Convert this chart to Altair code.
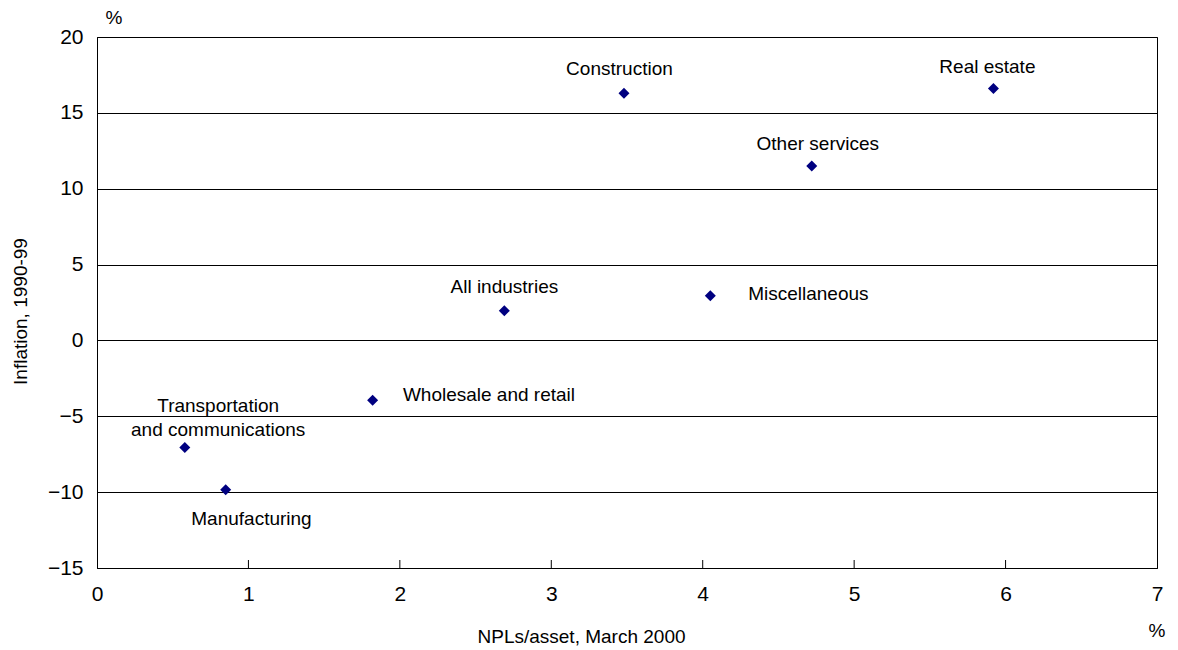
import altair as alt
import pandas as pd

industries = ["Construction", "Real estate", "Other services", "All industries",
              "Miscellaneous", "Wholesale and retail", "Transportation and communications",
              "Manufacturing"]
npl = [3.48, 5.92, 4.72, 2.69, 4.05, 1.82, 0.58, 0.85]
inflation = [16.3, 16.6, 11.5, 1.95, 2.95, -3.95, -7.05, -9.85]

label_lines = [["Construction"], ["Real estate"], ["Other services"], ["All industries"],
               ["Miscellaneous"], ["Wholesale and retail"],
               ["Transportation", "and communications"], ["Manufacturing"]]
label_x = [3.45, 5.88, 4.76, 2.69, 4.30, 2.02, 0.80, 1.02]
label_y = [17.9, 18.0, 12.95, 3.5, 3.05, -3.6, -4.35, -11.8]
label_align = ["center", "center", "center", "center", "left", "left", "center", "center"]

x_ticks = [0, 1, 2, 3, 4, 5, 6, 7]
y_ticks = [-15, -10, -5, 0, 5, 10, 15, 20]
inner_ticks = [1, 2, 3, 4, 5, 6]

W, H = 1060, 531
FONT = "Liberation Sans"

pts = pd.DataFrame({"industry": industries, "npl": npl, "inflation": inflation})
labs = pd.DataFrame({"label": label_lines, "lx": label_x, "ly": label_y, "align": label_align})
ticks = pd.DataFrame({"t": inner_ticks})

xs = alt.Scale(domain=[0, 7], nice=False, zero=False)
ys = alt.Scale(domain=[-15, 20], nice=False, zero=False)

base = alt.Chart(pts).mark_point(shape="diamond", filled=True, size=121,
                                 color="#000080", opacity=1).encode(
    x=alt.X("npl:Q", scale=xs,
            axis=alt.Axis(values=x_ticks, format="d", title="NPLs/asset, March 2000",
                          grid=False, ticks=False, labelPadding=15, labelFontSize=21,
                          labelFlush=False,
                          titleFontSize=19, titleFontWeight="normal",
                          titleX=484, titleY=68, titleAnchor="middle",
                          titleBaseline="middle",
                          domainColor="black", labelColor="black", titleColor="black")),
    y=alt.Y("inflation:Q", scale=ys,
            axis=alt.Axis(values=y_ticks, title="Inflation, 1990-99", grid=True,
                          gridColor="black", gridOpacity=1, ticks=False,
                          labelFlush=False,
                          labelPadding=14, labelFontSize=21, titleFontSize=19,
                          titleFontWeight="normal", titleX=-77, titleY=274,
                          titleAngle=270, titleBaseline="middle", titleAnchor="middle",
                          domainColor="black", labelColor="black", titleColor="black")),
)

tick_rules = alt.Chart(ticks).mark_rule(color="black", strokeWidth=1).encode(
    x=alt.X("t:Q", scale=xs),
    y=alt.value(H),
    y2=alt.value(H - 8),
)

text_layers = []
for a in ["center", "left"]:
    text_layers.append(
        alt.Chart(labs[labs["align"] == a]).mark_text(
            align=a, baseline="middle", fontSize=19, font=FONT, color="black",
            lineHeight=24).encode(
            x=alt.X("lx:Q", scale=xs),
            y=alt.Y("ly:Q", scale=ys),
            text="label",
        )
    )

pct_top = alt.Chart(pd.DataFrame({"s": ["%"]})).mark_text(
    fontSize=19, font=FONT, color="black", align="center", baseline="middle").encode(
    x=alt.value(17), y=alt.value(-19), text="s:N")
pct_right = alt.Chart(pd.DataFrame({"s": ["%"]})).mark_text(
    fontSize=19, font=FONT, color="black", align="center", baseline="middle").encode(
    x=alt.value(W), y=alt.value(H + 63), text="s:N")

chart = alt.layer(base, tick_rules, *text_layers, pct_top, pct_right).properties(
    width=W, height=H,
    autosize=alt.AutoSizeParams(type="none"),
    padding={"left": 89, "top": 29, "right": 13, "bottom": 100},
    background="white",
).configure_view(stroke="black", strokeWidth=1).configure_axis(
    labelFont=FONT, titleFont=FONT, domainWidth=1
)

chart.save("out.html", embed_options={"renderer": "svg", "actions": False})
